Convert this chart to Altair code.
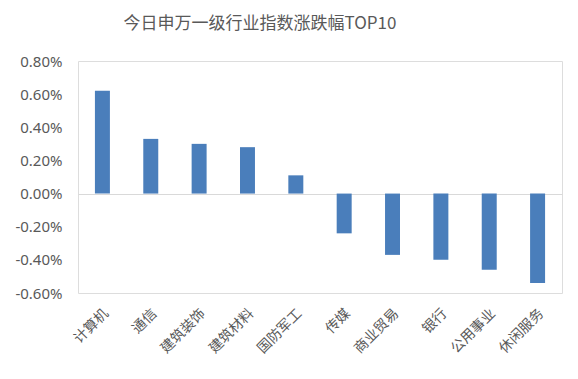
import altair as alt
import pandas as pd

industries = ["计算机", "通信", "建筑装饰", "建筑材料", "国防军工", "传媒", "商业贸易", "银行", "公用事业", "休闲服务"]
changes = [0.62, 0.33, 0.30, 0.28, 0.11, -0.24, -0.37, -0.40, -0.46, -0.54]
y_ticks = [-0.6, -0.4, -0.2, 0.0, 0.2, 0.4, 0.6, 0.8]

df = pd.DataFrame({"industry": industries, "change": changes})

grey = "#595959"
font_cn = "Noto Sans CJK SC"

x = alt.X("industry:N", sort=industries, title=None,
          scale=alt.Scale(paddingInner=0.69, paddingOuter=0.35),
          axis=alt.Axis(labelAngle=-45, labelAlign="right", labelBaseline="middle",
                        domain=False, ticks=False, labelFontSize=14, labelColor=grey,
                        labelFont=font_cn, labelPadding=18, labelOffset=4, labelOverlap=False))

y = alt.Y("change:Q", title=None,
          scale=alt.Scale(domain=[-0.6, 0.8], nice=False),
          axis=alt.Axis(values=y_ticks, tickCount=8, grid=True,
                        gridColor=alt.condition("datum.value == 0", alt.value("#d9d9d9"), alt.value("transparent")),
                        domain=False, ticks=False, labelFontSize=15, labelColor=grey,
                        labelFont="Noto Sans", labelPadding=16, labelOverlap=False,
                        labelExpr="replace(format(datum.value, '.2f'), '\u2212', '-') + '%'"))

chart = alt.Chart(df).mark_bar(color="#4A7EBB").encode(x=x, y=y).properties(
    width=484, height=232,
    autosize=alt.AutoSizeParams(type="none"),
    padding={"left": 70, "top": 53, "right": 8, "bottom": 78},
    title=alt.TitleParams("今日申万一级行业指数涨跌幅TOP10", fontSize=17, color=grey,
                          font=font_cn, fontWeight="normal", anchor="middle",
                          dx=-60, offset=4, baseline="bottom"),
).configure_view(strokeWidth=0).configure(background="white")

chart.save("out.html", embed_options={"renderer": "svg", "actions": False})
